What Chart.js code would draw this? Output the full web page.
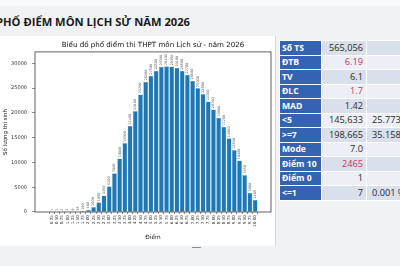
<!DOCTYPE html>
<html>
<head>
<meta charset="utf-8">
<script src="https://cdn.jsdelivr.net/npm/chart.js@4.4.1/dist/chart.umd.min.js"></script>
<style>
  html,body{margin:0;padding:0;}
  body{width:400px;height:266px;overflow:hidden;position:relative;background:#f1f2f4;font-family:"Open Sans",sans-serif;}
  #topstrip{position:absolute;left:0;top:0;width:400px;height:6px;background:#f8f9fb;}
  #mainTitle{position:absolute;left:-4px;top:14px;font:bold 11.2px "Open Sans",sans-serif;color:#1a1a1a;white-space:nowrap;letter-spacing:0px;}
  #panel{position:absolute;left:0;top:36px;width:275px;height:210px;background:#fff;border-right:1px solid #d6d8dc;}
  #chartBox{position:absolute;left:0;top:0;width:275px;height:209px;}
  #dash{position:absolute;left:192px;top:247px;width:9px;height:1px;background:#8a8d92;}
  table{position:absolute;left:279px;top:40px;border-collapse:collapse;font:9.2px "Open Sans",sans-serif;}
  td{height:13.5px;padding:0;border:1px solid #fff;white-space:nowrap;line-height:12px;box-sizing:border-box;}
  td.h{background:#3463b1;color:#fff;font-weight:bold;width:42px;min-width:42px;max-width:42px;text-align:left;padding-left:2px;font-size:8.6px;}
  td.v{width:45px;min-width:45px;text-align:right;color:#2a2a2a;padding-right:3px;}
  td.p{width:45px;min-width:45px;text-align:left;color:#2a2a2a;padding-left:5px;}
  tr.a td.v, tr.a td.p{background:#d9dfeb;}
  tr.b td.v, tr.b td.p{background:#eceff5;}
  .red{color:#d2334f !important;}
</style>
</head>
<body>
<div id="topstrip"></div>
<div id="mainTitle">PHỔ ĐIỂM MÔN LỊCH SỬ NĂM 2026</div>
<div id="panel"><div id="chartBox"><canvas id="c" width="275" height="209"></canvas></div></div>
<div id="dash"></div>
<table id="stats"></table>
<script>
// ---- data ----
const scores = [0.25,0.5,0.75,1.0,1.25,1.5,1.75,2.0,2.25,2.5,2.75,3.0,3.25,3.5,3.75,4.0,4.25,4.5,4.75,5.0,
                5.25,5.5,5.75,6.0,6.25,6.5,6.75,7.0,7.25,7.5,7.75,8.0,8.25,8.5,8.75,9.0,9.25,9.5,9.75,10.0];
const counts = [1,1,2,2,9,35,190,460,1000,1950,3350,5200,7800,10800,13900,17400,20400,23700,26300,27500,
                28500,29300,29400,29350,29100,28500,27700,26500,25000,23800,22300,20700,19000,17200,14860,12500,10400,7460,3900,2465];
const yTicks = [0,5000,10000,15000,20000,25000,30000];
const chartTitle = "Biểu đồ phổ điểm thi THPT môn Lịch sử - năm 2026";
const xTitle = "Điểm";
const yTitle = "Số lượng thí sinh";

const statLabels = ["Số TS","ĐTB","TV","ĐLC","MAD","<5",">=7","Mode","Điểm 10","Điểm 0","<=1"];
const statValues = ["565,056","6.19","6.1","1.7","1.42","145,633","198,665","7.0","2465","1","7"];
const statPercents = ["","","","","","25.773 %","35.158 %","","","","0.001 %"];
const statRed = [false,true,false,true,false,false,false,false,true,false,false];

// ---- table ----
const tbl = document.getElementById('stats');
statLabels.forEach((l,i)=>{
  const tr = document.createElement('tr');
  tr.className = i%2===0 ? 'a' : 'b';
  tr.style.height = '14.5px';
  const th = document.createElement('td'); th.className='h'; th.textContent=l;
  const tv = document.createElement('td'); tv.className='v'+(statRed[i]?' red':''); tv.textContent=statValues[i];
  const tp = document.createElement('td'); tp.className='p'; tp.textContent=statPercents[i];
  tr.appendChild(th); tr.appendChild(tv); tr.appendChild(tp);
  tbl.appendChild(tr);
});

// ---- chart ----
const FONT = '"DejaVu Sans", sans-serif';
const boxPlugin = {
  id:'box',
  afterDraw(chart){
    const {ctx, chartArea:a} = chart;
    ctx.save();
    ctx.strokeStyle='#3a3a3a'; ctx.lineWidth=0.8;
    ctx.strokeRect(a.left, a.top, a.right-a.left, a.bottom-a.top);
    ctx.restore();
  }
};
const valueLabels = {
  id:'valueLabels',
  afterDatasetsDraw(chart){
    const ctx = chart.ctx;
    const meta = chart.getDatasetMeta(0);
    ctx.save();
    ctx.font = '3.4px ' + FONT;
    ctx.fillStyle = '#555';
    ctx.textAlign = 'left';
    ctx.textBaseline = 'middle';
    meta.data.forEach((bar,i)=>{
      ctx.save();
      ctx.translate(bar.x, bar.y - 1.2);
      ctx.rotate(-Math.PI/2);
      ctx.fillText(String(counts[i]), 0, 0);
      ctx.restore();
    });
    ctx.restore();
  }
};

new Chart(document.getElementById('c'), {
  type:'bar',
  data:{
    datasets:[{
      data: scores.map((s,i)=>({x:s, y:counts[i]})),
      backgroundColor:'#1f77b4',
      borderColor:'#8fc6ea',
      borderWidth:0.5,
      barPercentage:0.95,
      categoryPercentage:1
    }]
  },
  options:{
    responsive:false,
    animation:false,
    devicePixelRatio:1,
    layout:{padding:{left:0,right:4,top:0,bottom:0}},
    plugins:{
      legend:{display:false},
      tooltip:{enabled:false},
      title:{display:true,fullSize:false,text:chartTitle,color:'#111',font:{family:FONT,size:7.1,weight:'normal'},padding:{top:4.6,bottom:2.8}}
    },
    scales:{
      x:{
        type:'linear',
        min:-0.42, max:10.62,
        afterBuildTicks(scale){ scale.ticks = scores.map(v=>({value:v})); },
        afterFit(scale){ scale.height = 33; },
        grid:{display:true,drawOnChartArea:false,drawTicks:true,tickLength:2,tickColor:'#444',lineWidth:0.6},
        border:{display:false},
        ticks:{autoSkip:false,minRotation:90,maxRotation:90,padding:1,color:'#333',font:{family:FONT,size:4.2},
          callback:(v)=>Number(v).toFixed(2)},
        title:{display:true,text:xTitle,color:'#222',font:{family:FONT,size:5.8},padding:{top:0,bottom:4}}
      },
      y:{
        min:0, max:32300,
        afterBuildTicks(scale){ scale.ticks = yTicks.map(v=>({value:v})); },
        afterFit(scale){ scale.width = 35; },
        grid:{display:true,drawOnChartArea:false,drawTicks:true,tickLength:3,tickColor:'#444',lineWidth:0.6},
        border:{display:false},
        ticks:{padding:5,color:'#333',font:{family:FONT,size:5},callback:(v)=>String(v)},
        title:{display:true,text:yTitle,color:'#222',font:{family:FONT,size:5.5},padding:{top:2,bottom:0}}
      }
    }
  },
  plugins:[boxPlugin, valueLabels]
});
</script>
</body>
</html>
